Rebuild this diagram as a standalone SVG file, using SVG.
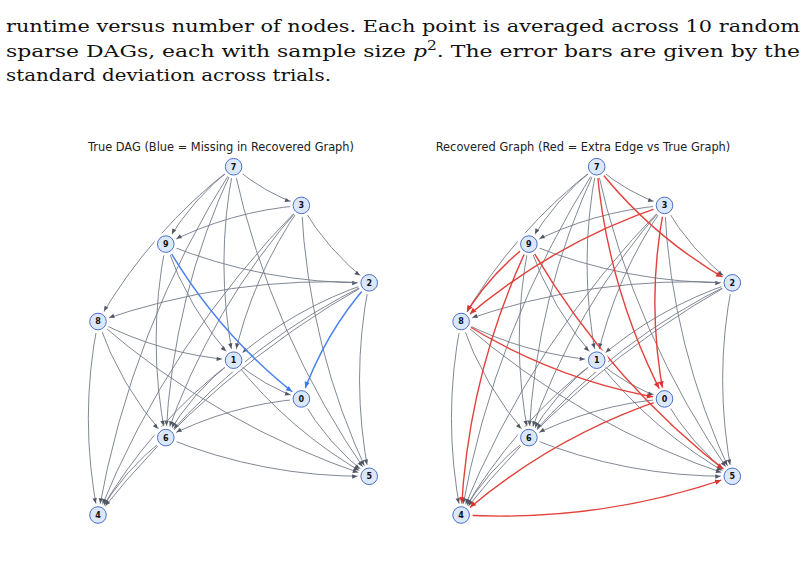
<svg xmlns="http://www.w3.org/2000/svg" width="804" height="579" viewBox="0 0 804 579">
<style>
.e{fill:none;stroke:#737a88;stroke-width:0.9}
.eb{fill:none;stroke:#4a82ee;stroke-width:1.5}
.er{fill:none;stroke:#e2413b;stroke-width:1.4}
.halo{fill:#fff}
.nc{fill:#dbe7fb;stroke:#4d6fc4;stroke-width:1}
.nl{font-family:"DejaVu Sans",sans-serif;font-weight:bold;font-size:8px;text-anchor:middle;fill:#111}
.ttl{font-family:"DejaVu Sans",sans-serif;font-size:11.4px;text-anchor:middle;fill:#222}
.cap{font-family:"DejaVu Serif",serif;font-size:17px;fill:#111}
</style>
<defs>
<marker id="ag" markerUnits="userSpaceOnUse" orient="auto" markerWidth="30" markerHeight="10" refX="0" refY="0" overflow="visible"><path d="M-17,-2.2 L-12,0 L-17,2.2 Z" fill="#4f5664"/></marker>
<marker id="ab" markerUnits="userSpaceOnUse" orient="auto" markerWidth="30" markerHeight="10" refX="0" refY="0" overflow="visible"><path d="M-17.8,-2.7 L-12,0 L-17.8,2.7 Z" fill="#3d77ea"/></marker>
<marker id="ar" markerUnits="userSpaceOnUse" orient="auto" markerWidth="30" markerHeight="10" refX="0" refY="0" overflow="visible"><path d="M-17.8,-2.7 L-12,0 L-17.8,2.7 Z" fill="#dc3530"/></marker>
<g id="grayEdges" class="e" marker-end="url(#ag)">
<path d="M233.6,166.7 Q263.63,192.83 301.4,205.4"/>
<path d="M233.6,166.7 Q191.96,198.62 165.8,244.1"/>
<path d="M233.6,166.7 Q150.32,230.54 98,321.5"/>
<path d="M233.6,166.7 Q214.25,263.45 233.6,360.2"/>
<path d="M233.6,166.7 Q172.61,295.37 165.8,437.6"/>
<path d="M233.6,166.7 Q130.97,327.29 98,515"/>
<path d="M233.6,166.7 Q270.44,335.06 369.2,476.3"/>
<path d="M301.4,205.4 Q229.73,211.19 165.8,244.1"/>
<path d="M301.4,205.4 Q327.56,250.88 369.2,282.8"/>
<path d="M301.4,205.4 Q252.02,276.02 233.6,360.2"/>
<path d="M301.4,205.4 Q210.38,307.94 165.8,437.6"/>
<path d="M301.4,205.4 Q168.74,339.86 98,515"/>
<path d="M301.4,205.4 Q308.21,347.63 369.2,476.3"/>
<path d="M165.8,244.1 Q263.63,283.79 369.2,282.8"/>
<path d="M165.8,244.1 Q188.09,308.93 233.6,360.2"/>
<path d="M165.8,244.1 Q146.45,340.85 165.8,437.6"/>
<path d="M369.2,282.8 Q229.73,275.03 98,321.5"/>
<path d="M369.2,282.8 Q293.66,307.94 233.6,360.2"/>
<path d="M369.2,282.8 Q252.02,339.86 165.8,437.6"/>
<path d="M369.2,282.8 Q210.38,371.78 98,515"/>
<path d="M369.2,282.8 Q349.85,379.55 369.2,476.3"/>
<path d="M98,321.5 Q161.93,354.41 233.6,360.2"/>
<path d="M98,321.5 Q120.29,386.33 165.8,437.6"/>
<path d="M98,321.5 Q78.65,418.25 98,515"/>
<path d="M98,321.5 Q218.12,426.02 369.2,476.3"/>
<path d="M233.6,360.2 Q263.63,386.33 301.4,398.9"/>
<path d="M233.6,360.2 Q191.96,392.12 165.8,437.6"/>
<path d="M233.6,360.2 Q150.32,424.04 98,515"/>
<path d="M233.6,360.2 Q289.79,431.81 369.2,476.3"/>
<path d="M301.4,398.9 Q229.73,404.69 165.8,437.6"/>
<path d="M301.4,398.9 Q327.56,444.38 369.2,476.3"/>
<path d="M165.8,437.6 Q263.63,477.29 369.2,476.3"/>
<path d="M165.8,437.6 Q124.16,469.52 98,515"/>
</g>
</defs>

<text class="cap" x="6" y="32" textLength="794" lengthAdjust="spacingAndGlyphs">runtime versus number of nodes.  Each point is averaged across 10 random</text>
<text class="cap" x="6" y="57" textLength="794" lengthAdjust="spacingAndGlyphs">sparse DAGs, each with sample size <tspan font-style="italic">p</tspan><tspan dy="-7" font-size="12">2</tspan><tspan dy="7">.  The error bars are given by the</tspan></text>
<text class="cap" x="6" y="81" textLength="325" lengthAdjust="spacingAndGlyphs">standard deviation across trials.</text>

<text class="ttl" x="221" y="151">True DAG (Blue = Missing in Recovered Graph)</text>
<text class="ttl" x="583" y="151">Recovered Graph (Red = Extra Edge vs True Graph)</text>

<g id="connectors">
<g id="true-edges">
<use href="#grayEdges"/>
<g class="eb" marker-end="url(#ab)">
<path d="M165.8,244.1 Q218.12,335.06 301.4,398.9"/>
<path d="M369.2,282.8 Q323.69,334.07 301.4,398.9"/>
</g>
</g>
<g id="recovered-edges" transform="translate(363.1,0)">
<g class="e" marker-end="url(#ag)">
<path d="M233.6,166.7 Q263.63,192.83 301.4,205.4"/>
<path d="M233.6,166.7 Q191.96,198.62 165.8,244.1"/>
<path d="M233.6,166.7 Q150.32,230.54 98,321.5"/>
<path d="M233.6,166.7 Q214.25,263.45 233.6,360.2"/>
<path d="M233.6,166.7 Q172.61,295.37 165.8,437.6"/>
<path d="M233.6,166.7 Q130.97,327.29 98,515"/>
<path d="M233.6,166.7 Q270.44,335.06 369.2,476.3"/>
<path d="M301.4,205.4 Q229.73,211.19 165.8,244.1"/>
<path d="M301.4,205.4 Q327.56,250.88 369.2,282.8"/>
<path d="M301.4,205.4 Q252.02,276.02 233.6,360.2"/>
<path d="M301.4,205.4 Q210.38,307.94 165.8,437.6"/>
<path d="M301.4,205.4 Q168.74,339.86 98,515"/>
<path d="M301.4,205.4 Q308.21,347.63 369.2,476.3"/>
<path d="M165.8,244.1 Q263.63,283.79 369.2,282.8"/>
<path d="M165.8,244.1 Q188.09,308.93 233.6,360.2"/>
<path d="M165.8,244.1 Q146.45,340.85 165.8,437.6"/>
<path d="M369.2,282.8 Q229.73,275.03 98,321.5"/>
<path d="M369.2,282.8 Q293.66,307.94 233.6,360.2"/>
<path d="M369.2,282.8 Q252.02,339.86 165.8,437.6"/>
<path d="M369.2,282.8 Q210.38,371.78 98,515"/>
<path d="M369.2,282.8 Q349.85,379.55 369.2,476.3"/>
<path d="M98,321.5 Q161.93,354.41 233.6,360.2"/>
<path d="M98,321.5 Q120.29,386.33 165.8,437.6"/>
<path d="M98,321.5 Q78.65,418.25 98,515"/>
<path d="M98,321.5 Q218.12,426.02 369.2,476.3"/>
<path d="M233.6,360.2 Q263.63,386.33 301.4,398.9"/>
<path d="M233.6,360.2 Q191.96,392.12 165.8,437.6"/>
<path d="M233.6,360.2 Q150.32,424.04 98,515"/>
<path d="M233.6,360.2 Q289.79,431.81 369.2,476.3"/>
<path d="M301.4,398.9 Q229.73,404.69 165.8,437.6"/>
<path d="M301.4,398.9 Q327.56,444.38 369.2,476.3"/>
<path d="M165.8,437.6 Q263.63,477.29 369.2,476.3"/>
<path d="M165.8,437.6 Q124.16,469.52 98,515"/>
</g>
<g class="er" marker-end="url(#ar)">
<path d="M233.6,166.7 Q289.79,238.31 369.2,282.8"/>
<path d="M233.6,166.7 Q244.28,289.58 301.4,398.9"/>
<path d="M301.4,205.4 Q282.05,302.15 301.4,398.9"/>
<path d="M301.4,205.4 Q188.09,243.11 98,321.5"/>
<path d="M165.8,244.1 Q124.16,276.02 98,321.5"/>
<path d="M165.8,244.1 Q104.81,372.77 98,515"/>
<path d="M165.8,244.1 Q244.28,380.54 369.2,476.3"/>
<path d="M98,321.5 Q191.96,380.54 301.4,398.9"/>
<path d="M301.4,398.9 Q188.09,436.61 98,515"/>
<path d="M98,515 Q237.47,522.77 369.2,476.3"/>
</g>
</g>
</g>

<g id="true-nodes">
<g id="t7"><circle class="halo" cx="233.6" cy="166.7" r="11.5"/><circle class="nc" cx="233.6" cy="166.7" r="8.3"/><text class="nl" x="233.6" y="169.6">7</text></g>
<g id="t3"><circle class="halo" cx="301.4" cy="205.4" r="11.5"/><circle class="nc" cx="301.4" cy="205.4" r="8.3"/><text class="nl" x="301.4" y="208.3">3</text></g>
<g id="t9"><circle class="halo" cx="165.8" cy="244.1" r="11.5"/><circle class="nc" cx="165.8" cy="244.1" r="8.3"/><text class="nl" x="165.8" y="247">9</text></g>
<g id="t2"><circle class="halo" cx="369.2" cy="282.8" r="11.5"/><circle class="nc" cx="369.2" cy="282.8" r="8.3"/><text class="nl" x="369.2" y="285.7">2</text></g>
<g id="t8"><circle class="halo" cx="98" cy="321.5" r="11.5"/><circle class="nc" cx="98" cy="321.5" r="8.3"/><text class="nl" x="98" y="324.4">8</text></g>
<g id="t1"><circle class="halo" cx="233.6" cy="360.2" r="11.5"/><circle class="nc" cx="233.6" cy="360.2" r="8.3"/><text class="nl" x="233.6" y="363.1">1</text></g>
<g id="t0"><circle class="halo" cx="301.4" cy="398.9" r="11.5"/><circle class="nc" cx="301.4" cy="398.9" r="8.3"/><text class="nl" x="301.4" y="401.8">0</text></g>
<g id="t6"><circle class="halo" cx="165.8" cy="437.6" r="11.5"/><circle class="nc" cx="165.8" cy="437.6" r="8.3"/><text class="nl" x="165.8" y="440.5">6</text></g>
<g id="t5"><circle class="halo" cx="369.2" cy="476.3" r="11.5"/><circle class="nc" cx="369.2" cy="476.3" r="8.3"/><text class="nl" x="369.2" y="479.2">5</text></g>
<g id="t4"><circle class="halo" cx="98" cy="515" r="11.5"/><circle class="nc" cx="98" cy="515" r="8.3"/><text class="nl" x="98" y="517.9">4</text></g>
</g>

<g id="recovered-nodes" transform="translate(363.1,0)">
<g id="r7"><circle class="halo" cx="233.6" cy="166.7" r="11.5"/><circle class="nc" cx="233.6" cy="166.7" r="8.3"/><text class="nl" x="233.6" y="169.6">7</text></g>
<g id="r3"><circle class="halo" cx="301.4" cy="205.4" r="11.5"/><circle class="nc" cx="301.4" cy="205.4" r="8.3"/><text class="nl" x="301.4" y="208.3">3</text></g>
<g id="r9"><circle class="halo" cx="165.8" cy="244.1" r="11.5"/><circle class="nc" cx="165.8" cy="244.1" r="8.3"/><text class="nl" x="165.8" y="247">9</text></g>
<g id="r2"><circle class="halo" cx="369.2" cy="282.8" r="11.5"/><circle class="nc" cx="369.2" cy="282.8" r="8.3"/><text class="nl" x="369.2" y="285.7">2</text></g>
<g id="r8"><circle class="halo" cx="98" cy="321.5" r="11.5"/><circle class="nc" cx="98" cy="321.5" r="8.3"/><text class="nl" x="98" y="324.4">8</text></g>
<g id="r1"><circle class="halo" cx="233.6" cy="360.2" r="11.5"/><circle class="nc" cx="233.6" cy="360.2" r="8.3"/><text class="nl" x="233.6" y="363.1">1</text></g>
<g id="r0"><circle class="halo" cx="301.4" cy="398.9" r="11.5"/><circle class="nc" cx="301.4" cy="398.9" r="8.3"/><text class="nl" x="301.4" y="401.8">0</text></g>
<g id="r6"><circle class="halo" cx="165.8" cy="437.6" r="11.5"/><circle class="nc" cx="165.8" cy="437.6" r="8.3"/><text class="nl" x="165.8" y="440.5">6</text></g>
<g id="r5"><circle class="halo" cx="369.2" cy="476.3" r="11.5"/><circle class="nc" cx="369.2" cy="476.3" r="8.3"/><text class="nl" x="369.2" y="479.2">5</text></g>
<g id="r4"><circle class="halo" cx="98" cy="515" r="11.5"/><circle class="nc" cx="98" cy="515" r="8.3"/><text class="nl" x="98" y="517.9">4</text></g>
</g>
</svg>
